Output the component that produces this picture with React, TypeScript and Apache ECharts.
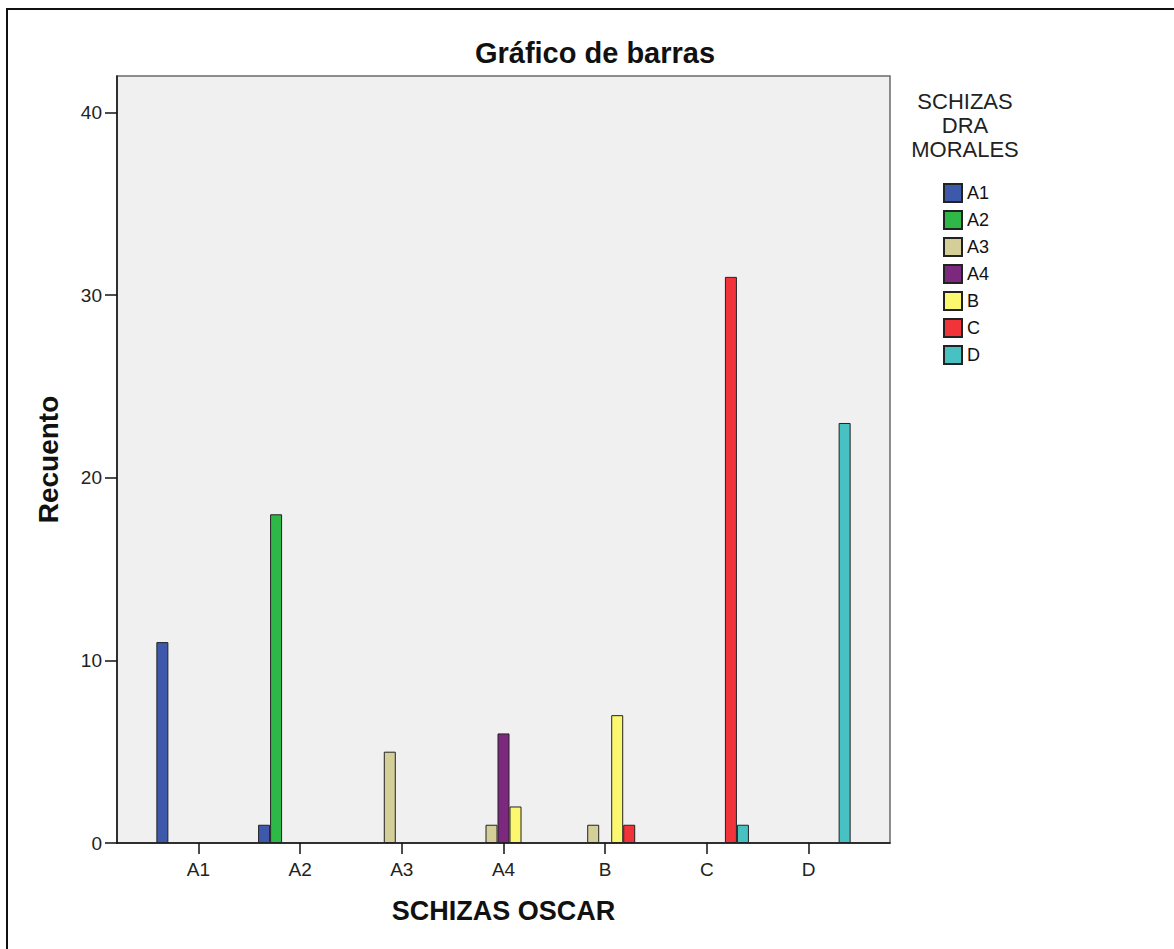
import React, { useEffect, useRef } from "react";
import * as echarts from "echarts";

// SCHIZAS OSCAR (x categories)
const categories = ["A1", "A2", "A3", "A4", "B", "C", "D"];
// SCHIZAS DRA MORALES (series) — counts per x category
const seriesNames = ["A1", "A2", "A3", "A4", "B", "C", "D"];
const valuesA1 = [11, 1, 0, 0, 0, 0, 0];
const valuesA2 = [0, 18, 0, 0, 0, 0, 0];
const valuesA3 = [0, 0, 5, 1, 1, 0, 0];
const valuesA4 = [0, 0, 0, 6, 0, 0, 0];
const valuesB = [0, 0, 0, 2, 7, 0, 0];
const valuesC = [0, 0, 0, 0, 1, 31, 0];
const valuesD = [0, 0, 0, 0, 0, 1, 23];
const seriesValues = [valuesA1, valuesA2, valuesA3, valuesA4, valuesB, valuesC, valuesD];
const seriesColors = ["#3E58AC", "#2EB848", "#D4CF98", "#7B287E", "#FBF870", "#F0343A", "#48C1C3"];
const yTicks = [0, 10, 20, 30, 40];
const legendTitleLines = ["SCHIZAS", "DRA", "MORALES"];

const FONT = "'Liberation Sans', Arial, sans-serif";

export default function App() {
  const ref = useRef<HTMLDivElement>(null);
  useEffect(() => {
    if (!ref.current) return;
    const chart = echarts.init(ref.current, undefined, { renderer: "svg" });
    const catIdx = categories.map((_, i) => i);
    const series = seriesNames.map((name, s) => ({
      type: "bar",
      name,
      barWidth: 12,
      barGap: "0%",
      data: seriesValues[s]
        .map((v, i) => [i, v])
        .filter((d) => d[1] !== 0),
      itemStyle: { color: seriesColors[s], borderColor: "#222", borderWidth: 1 },
    }));
    const legendTitle = legendTitleLines.map((t, i) => ({
      type: "text",
      x: 965,
      y: 101 + i * 24,
      style: {
        text: t,
        fontSize: 22,
        fill: "#222",
        textAlign: "center",
        textVerticalAlign: "middle",
        fontFamily: FONT,
      },
    }));
    chart.setOption({
      animation: false,
      textStyle: { fontFamily: FONT },
      grid: {
        left: 117,
        top: 76,
        right: 1174 - 890,
        bottom: 949 - 843,
        show: true,
        backgroundColor: "#F0F0F0",
        borderColor: "#6a6a6a",
        borderWidth: 1.5,
      },
      xAxis: {
        type: "value",
        min: -0.8,
        max: 6.8,
        splitLine: { show: false },
        axisLine: { show: true, onZero: false, lineStyle: { color: "#111", width: 1.5 } },
        axisTick: {
          show: true,
          customValues: catIdx,
          length: 11,
          lineStyle: { color: "#111", width: 1.5 },
        },
        axisLabel: {
          customValues: catIdx,
          formatter: (v: number) => categories[Math.round(v)] ?? "",
          color: "#222",
          fontSize: 19,
          margin: 17,
          fontFamily: FONT,
        },
        name: "SCHIZAS OSCAR",
        nameLocation: "middle",
        nameGap: 54,
        nameTextStyle: { fontSize: 27, fontWeight: "bold", color: "#111", fontFamily: FONT },
      },
      yAxis: {
        type: "value",
        min: 0,
        max: 42,
        splitLine: { show: false },
        axisLine: { show: true, onZero: false, lineStyle: { color: "#111", width: 1.5 } },
        axisTick: {
          show: true,
          customValues: yTicks,
          length: 12,
          lineStyle: { color: "#111", width: 1.5 },
        },
        axisLabel: {
          customValues: yTicks,
          color: "#222",
          fontSize: 19,
          margin: 15,
          fontFamily: FONT,
        },
        name: "Recuento",
        nameLocation: "middle",
        nameGap: 55,
        nameRotate: 90,
        nameTextStyle: { fontSize: 28, fontWeight: "bold", color: "#111", fontFamily: FONT },
      },
      legend: {
        orient: "vertical",
        left: 938,
        top: 178,
        itemWidth: 18,
        itemHeight: 18,
        itemGap: 7,
        icon: "rect",
        data: seriesNames,
        textStyle: { fontSize: 18, lineHeight: 18, color: "#111", fontFamily: FONT },
      },
      graphic: [
        {
          type: "rect",
          shape: { x: 7, y: 9, width: 1200, height: 1000 },
          style: { fill: "none", stroke: "#111", lineWidth: 2 },
          silent: true,
        },
        {
          type: "text",
          x: 595,
          y: 53,
          style: {
            text: "Gráfico de barras",
            fontSize: 29,
            fontWeight: "bold",
            fill: "#111",
            textAlign: "center",
            textVerticalAlign: "middle",
            fontFamily: FONT,
          },
        },
        ...legendTitle,
      ],
      series,
    });
    return () => chart.dispose();
  }, []);
  return (
    <div
      ref={ref}
      style={{ position: "fixed", left: 0, top: 0, width: 1174, height: 949, background: "#fff" }}
    />
  );
}
